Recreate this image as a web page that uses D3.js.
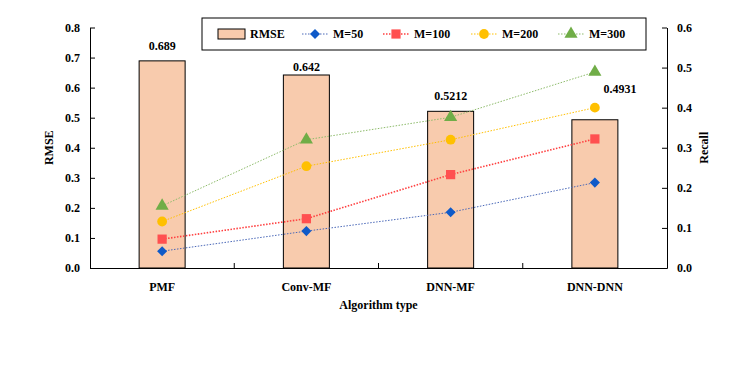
<!DOCTYPE html>
<html><head><meta charset="utf-8">
<script src="https://cdn.jsdelivr.net/npm/d3@7"></script>
<style>body{margin:0;background:#fff}svg{display:block}svg text{font-family:"Liberation Serif","Times New Roman",serif !important;font-weight:bold !important;fill:#000}</style>
</head><body><svg id="c" width="739" height="368"></svg>
<script>
const categories = ["PMF","Conv-MF","DNN-MF","DNN-DNN"];
const rmse = [0.689,0.642,0.5212,0.4931];
const rmseLabels = ["0.689","0.642","0.5212","0.4931"];
const recallM50 = [0.042,0.092,0.139,0.213];
const recallM100 = [0.072,0.123,0.233,0.322];
const recallM200 = [0.116,0.254,0.320,0.400];
const recallM300 = [0.155,0.320,0.376,0.489];
const leftTicks = [0,0.1,0.2,0.3,0.4,0.5,0.6,0.7,0.8];
const rightTicks = [0,0.1,0.2,0.3,0.4,0.5,0.6];
const seriesNames = ["M=50","M=100","M=200","M=300"];

const diamond = {draw(ctx,size){const r=Math.sqrt(size)/2*1.3;ctx.moveTo(0,-r);ctx.lineTo(r,0);ctx.lineTo(0,r);ctx.lineTo(-r,0);ctx.closePath();}};
const series = [
  {name:seriesNames[0], values:recallM50, color:"#0F5AC8", line:"#4A68B8", sym:diamond, size:60, w:1},
  {name:seriesNames[1], values:recallM100, color:"#FF5050", line:"#FF4040", sym:d3.symbolSquare, size:85, w:1.6},
  {name:seriesNames[2], values:recallM200, color:"#FFC000", line:"#FFC000", sym:d3.symbolCircle, size:75, w:1},
  {name:seriesNames[3], values:recallM300, color:"#70AD47", line:"#8DBB6A", sym:d3.symbolTriangle, size:75, w:1}
];

const L=90, R=667, T=27.5, B=268;
const svg = d3.select("#c");
const x = d3.scaleBand().domain(categories).range([L,R]);
const yL = d3.scaleLinear().domain([0,0.8]).range([B,T]);
const yR = d3.scaleLinear().domain([0,0.6]).range([B,T]);
const barW = 46;

svg.append("g").selectAll("rect").data(categories).join("rect")
  .attr("x",(d)=>x(d)+x.bandwidth()/2-barW/2)
  .attr("y",(d,i)=>yL(rmse[i]))
  .attr("width",barW)
  .attr("height",(d,i)=>B-yL(rmse[i]))
  .attr("fill","#F8CBAD").attr("stroke","#000").attr("stroke-width",1);

const lblDx=[0,0,0,25], lblDy=[-11,-4,-11,-27];
svg.append("g").selectAll("text").data(categories).join("text")
  .attr("x",(d,i)=>x(d)+x.bandwidth()/2+lblDx[i])
  .attr("y",(d,i)=>yL(rmse[i])+lblDy[i])
  .attr("text-anchor","middle").attr("font-size",12).text((d,i)=>rmseLabels[i]);

const axL = svg.append("g").attr("transform",`translate(${L},0)`)
  .call(d3.axisLeft(yL).tickValues(leftTicks).tickFormat(d3.format(".1f")).tickSizeInner(-5).tickSizeOuter(0).tickPadding(10));
const axR = svg.append("g").attr("transform",`translate(${R},0)`)
  .call(d3.axisRight(yR).tickValues(rightTicks).tickFormat(d3.format(".1f")).tickSizeInner(-5).tickSizeOuter(0).tickPadding(10));
const axB = svg.append("g").attr("transform",`translate(0,${B})`)
  .call(d3.axisBottom(x).tickSize(0).tickPadding(12));
[axL,axR,axB].forEach(g=>{
  g.attr("font-family",null);
  g.selectAll("path").attr("stroke","#000").attr("stroke-width",1);
  g.selectAll("line").attr("stroke","#000");
  g.selectAll("text").attr("font-size",12);
});
axB.selectAll(".tick text").attr("dy","0.9em");
svg.append("g").selectAll("line").data(categories.slice(1)).join("line")
  .attr("x1",d=>x(d)).attr("x2",d=>x(d)).attr("y1",B).attr("y2",B-5).attr("stroke","#000");

svg.append("text").attr("transform",`translate(53,${(T+B)/2}) rotate(-90)`).attr("text-anchor","middle").attr("font-size",12).text("RMSE");
svg.append("text").attr("transform",`translate(708,${(T+B)/2}) rotate(-90)`).attr("text-anchor","middle").attr("font-size",12).text("Recall");
svg.append("text").attr("x",(L+R)/2).attr("y",309).attr("text-anchor","middle").attr("font-size",12).text("Algorithm type");

const cx = d=>x(d)+x.bandwidth()/2;
series.forEach(s=>{
  const line = d3.line().x((d,i)=>cx(categories[i])).y(d=>yR(d));
  svg.append("path").datum(s.values).attr("d",line).attr("fill","none")
    .attr("stroke",s.line).attr("stroke-width",s.w).attr("stroke-dasharray","1.5,1.5");
  svg.append("g").selectAll("path").data(s.values).join("path")
    .attr("transform",(d,i)=>`translate(${cx(categories[i])},${yR(d)})`)
    .attr("d",d3.symbol().type(s.sym).size(s.size)).attr("fill",s.color);
});

const lg = svg.append("g");
lg.append("rect").attr("x",202).attr("y",18).attr("width",444).attr("height",32).attr("fill","#fff").attr("stroke","#000");
lg.append("rect").attr("x",218).attr("y",29).attr("width",27).attr("height",10).attr("fill","#F8CBAD").attr("stroke","#000");
lg.append("text").attr("x",250).attr("y",38).attr("font-size",12).text("RMSE");
const lx=[302,383,471,558];
series.forEach((s,i)=>{
  lg.append("line").attr("x1",lx[i]).attr("x2",lx[i]+26).attr("y1",34).attr("y2",34)
    .attr("stroke",s.line).attr("stroke-width",s.w).attr("stroke-dasharray","1.5,1.5");
  lg.append("path").attr("transform",`translate(${lx[i]+13},34)`).attr("d",d3.symbol().type(s.sym).size(s.size)).attr("fill",s.color);
  lg.append("text").attr("x",lx[i]+31).attr("y",38).attr("font-size",12).text(s.name);
});
</script></body></html>
